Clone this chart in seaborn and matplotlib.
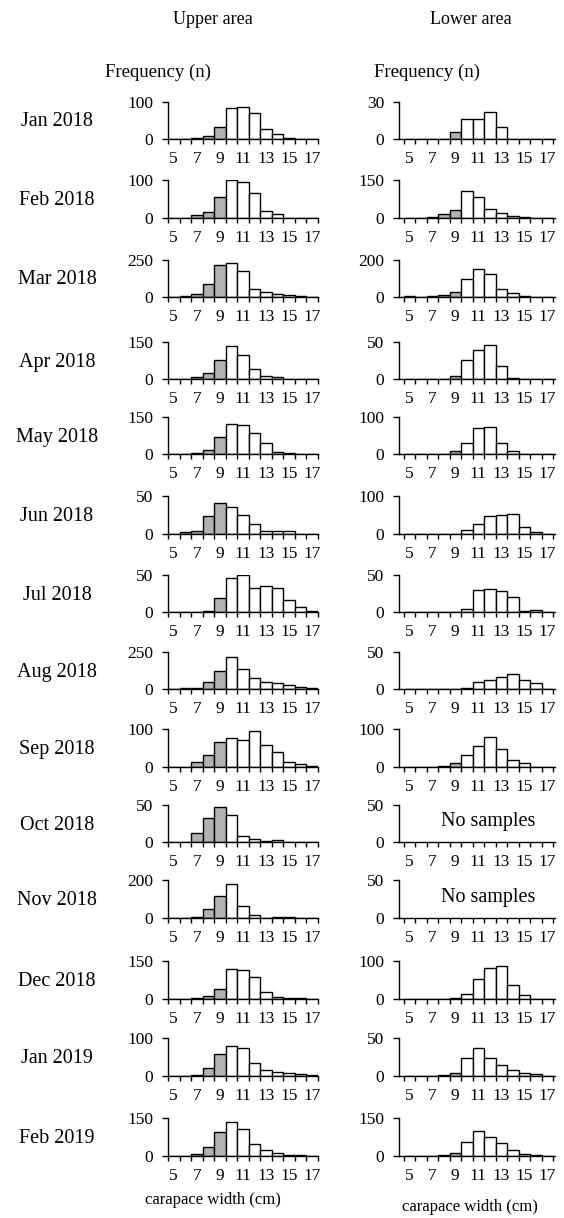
import numpy as np
import pandas as pd
import matplotlib
matplotlib.use("Agg")
import matplotlib.pyplot as plt
import seaborn as sns

# ---------------- data ----------------
months = ["Jan 2018", "Feb 2018", "Mar 2018", "Apr 2018", "May 2018", "Jun 2018",
          "Jul 2018", "Aug 2018", "Sep 2018", "Oct 2018", "Nov 2018", "Dec 2018",
          "Jan 2019", "Feb 2019"]
size_classes = [5, 6, 7, 8, 9, 10, 11, 12, 13, 14, 15, 16, 17]
tick_labels = ["5", "7", "9", "11", "13", "15", "17"]

upper_jan18 = [0, 1, 4, 9, 33, 82, 85, 70, 28, 14, 4, 1, 0]
upper_feb18 = [0, 0, 7, 14, 56, 100, 96, 66, 19, 9, 0, 0, 0]
upper_mar18 = [2, 9, 20, 88, 212, 225, 172, 51, 31, 20, 11, 4, 0]
upper_apr18 = [0, 0, 7, 26, 78, 132, 95, 41, 13, 7, 1, 0, 0]
upper_may18 = [0, 0, 4, 17, 69, 123, 117, 84, 46, 11, 4, 1, 0]
upper_jun18 = [0, 2, 4, 23, 41, 35, 25, 13, 3, 4, 4, 0, 0]
upper_jul18 = [0, 0, 0, 2, 19, 46, 50, 32, 35, 33, 16, 7, 2]
upper_aug18 = [0, 4, 9, 46, 120, 213, 136, 72, 46, 37, 24, 15, 6]
upper_sep18 = [0, 0, 12, 30, 65, 76, 71, 95, 58, 38, 12, 6, 3]
upper_oct18 = [0, 1, 12, 32, 47, 36, 9, 4, 2, 3, 0, 0, 0]
upper_nov18 = [0, 0, 3, 44, 115, 179, 65, 12, 1, 2, 2, 1, 0]
upper_dec18 = [0, 0, 3, 9, 38, 117, 113, 85, 28, 5, 4, 2, 0]
upper_jan19 = [0, 0, 3, 20, 58, 79, 73, 35, 16, 9, 7, 5, 1]
upper_feb19 = [0, 0, 5, 36, 93, 135, 105, 45, 22, 9, 3, 2, 0]

lower_jan18 = [0, 0, 0, 0, 6, 16, 16, 22, 10, 0, 0, 0, 0]
lower_feb18 = [0, 0, 4, 13, 31, 108, 82, 36, 20, 5, 4, 0, 0]
lower_mar18 = [5, 0, 3, 9, 25, 97, 152, 124, 42, 19, 5, 1, 0]
lower_apr18 = [0, 0, 0, 0, 4, 25, 39, 46, 18, 2, 0, 0, 0]
lower_may18 = [0, 0, 0, 0, 10, 29, 69, 73, 31, 8, 2, 0, 0]
lower_jun18 = [0, 0, 0, 0, 0, 11, 25, 47, 49, 53, 18, 4, 0]
lower_jul18 = [0, 0, 0, 0, 0, 5, 30, 31, 29, 20, 2, 3, 0]
lower_aug18 = [0, 0, 0, 0, 0, 2, 9, 12, 16, 20, 12, 8, 0]
lower_sep18 = [0, 0, 0, 3, 9, 31, 55, 78, 47, 19, 10, 0, 0]
lower_oct18 = None  # no samples
lower_nov18 = None  # no samples
lower_dec18 = [0, 0, 0, 0, 3, 12, 52, 82, 87, 36, 10, 0, 0]
lower_jan19 = [0, 0, 0, 1, 3, 24, 37, 23, 14, 8, 4, 2, 0]
lower_feb19 = [0, 0, 0, 4, 9, 55, 100, 74, 50, 22, 7, 3, 0]

upper_ymax = [100, 100, 250, 150, 150, 50, 50, 250, 100, 50, 200, 150, 100, 150]
lower_ymax = [30, 150, 200, 50, 100, 100, 50, 50, 100, 50, 50, 100, 50, 150]

upper_series = [upper_jan18, upper_feb18, upper_mar18, upper_apr18, upper_may18,
                upper_jun18, upper_jul18, upper_aug18, upper_sep18, upper_oct18,
                upper_nov18, upper_dec18, upper_jan19, upper_feb19]
lower_series = [lower_jan18, lower_feb18, lower_mar18, lower_apr18, lower_may18,
                lower_jun18, lower_jul18, lower_aug18, lower_sep18, lower_oct18,
                lower_nov18, lower_dec18, lower_jan19, lower_feb19]

# ---------------- style ----------------
sns.set_theme(style="ticks")
plt.rcParams["font.family"] = ["Liberation Serif", "DejaVu Serif"]
plt.rcParams["axes.linewidth"] = 1.0
plt.rcParams["text.color"] = "black"
plt.rcParams["axes.labelcolor"] = "black"
plt.rcParams["xtick.color"] = "black"
plt.rcParams["ytick.color"] = "black"
TICK_FS = 12.5
MONTH_FS = 14.5
FREQ_FS = 13.5
TITLE_FS = 13
XLAB_FS = 12
NOSAMP_FS = 14.5

W, H = 564, 1218
fig = plt.figure(figsize=(W / 100, H / 100), dpi=100)
fig.patch.set_facecolor("white")

palette = {"small": "#b2b2b2", "large": "#ffffff"}

# layout (pixels)
row_zero = [139, 217.7, 297, 379, 454.3, 533.7, 612.3, 689, 766.7, 842.3,
            917.7, 998.7, 1075.7, 1155.7]
panel_h = 37.5
upper_left, upper_w = 168, 150
lower_left, lower_w = 399, 156
cat_px = 11.5


def draw_panel(ax, values, ymax, xlo, xhi):
    if values is not None:
        df = pd.DataFrame({
            "cw": size_classes,
            "n": values,
            "grp": ["small" if c <= 9 else "large" for c in size_classes],
        })
        sns.barplot(data=df, x="cw", y="n", hue="grp", hue_order=["small", "large"],
                    palette=palette, native_scale=True, width=1, dodge=False,
                    edgecolor="black", linewidth=1.0, saturation=1,
                    legend=False, ax=ax, zorder=3)
    ax.set_xlim(xlo, xhi)
    ax.set_ylim(0, ymax)
    ax.set_xlabel("")
    ax.set_ylabel("")
    ax.set_facecolor("none")
    for s in ["top", "right"]:
        ax.spines[s].set_visible(False)
    for s in ["left", "bottom"]:
        ax.spines[s].set_color("black")
        ax.spines[s].set_linewidth(1.0)
        ax.spines[s].set_zorder(5)
    bounds = np.arange(4.5, 18.0, 1.0)
    ax.set_xticks(bounds)
    ax.set_xticklabels([])
    ax.set_xticks([int(t) for t in tick_labels], minor=True)
    ax.set_xticklabels(tick_labels, minor=True, fontsize=TICK_FS)
    ax.tick_params(axis="x", which="major", length=3.5, width=1.0, direction="out",
                   color="black")
    ax.tick_params(axis="x", which="minor", length=0, pad=8.5, labelcolor="black")
    ax.set_yticks([0, ymax])
    ax.set_yticklabels(["0", str(ymax)], fontsize=TICK_FS)
    ax.tick_params(axis="y", length=4.5, width=1.0, direction="out", pad=6,
                   color="black", labelcolor="black")
    ax.grid(False)


for i, m in enumerate(months):
    z = row_zero[i]
    bottom = 1 - z / H
    h = panel_h / H
    axu = fig.add_axes([upper_left / W, bottom, upper_w / W, h])
    draw_panel(axu, upper_series[i], upper_ymax[i], 4.5, 4.5 + upper_w / cat_px)
    axl = fig.add_axes([lower_left / W, bottom, lower_w / W, h])
    lo = 5.0 - (409.3 - lower_left) / cat_px
    draw_panel(axl, lower_series[i], lower_ymax[i], lo, lo + lower_w / cat_px)
    if lower_series[i] is None:
        axl.text(0.57, 0.55, "No samples", transform=axl.transAxes,
                 ha="center", va="center", fontsize=NOSAMP_FS, color="black")
    fig.text(57 / W, 1 - (z - 17) / H, m, ha="center", va="center",
             fontsize=MONTH_FS, color="black")

fig.text(213 / W, 1 - 20 / H, "Upper area", ha="center", va="center",
         fontsize=TITLE_FS, color="black")
fig.text(471 / W, 1 - 20 / H, "Lower area", ha="center", va="center",
         fontsize=TITLE_FS, color="black")
fig.text(105 / W, 1 - 72 / H, "Frequency (n)", ha="left", va="center",
         fontsize=FREQ_FS, color="black")
fig.text(374 / W, 1 - 72 / H, "Frequency (n)", ha="left", va="center",
         fontsize=FREQ_FS, color="black")
fig.text(213 / W, 1 - 1200 / H, "carapace width (cm)", ha="center", va="center",
         fontsize=XLAB_FS, color="black")
fig.text(470 / W, 1 - 1207 / H, "carapace width (cm)", ha="center", va="center",
         fontsize=XLAB_FS, color="black")

fig.savefig("out.png", dpi=100, facecolor="white")
